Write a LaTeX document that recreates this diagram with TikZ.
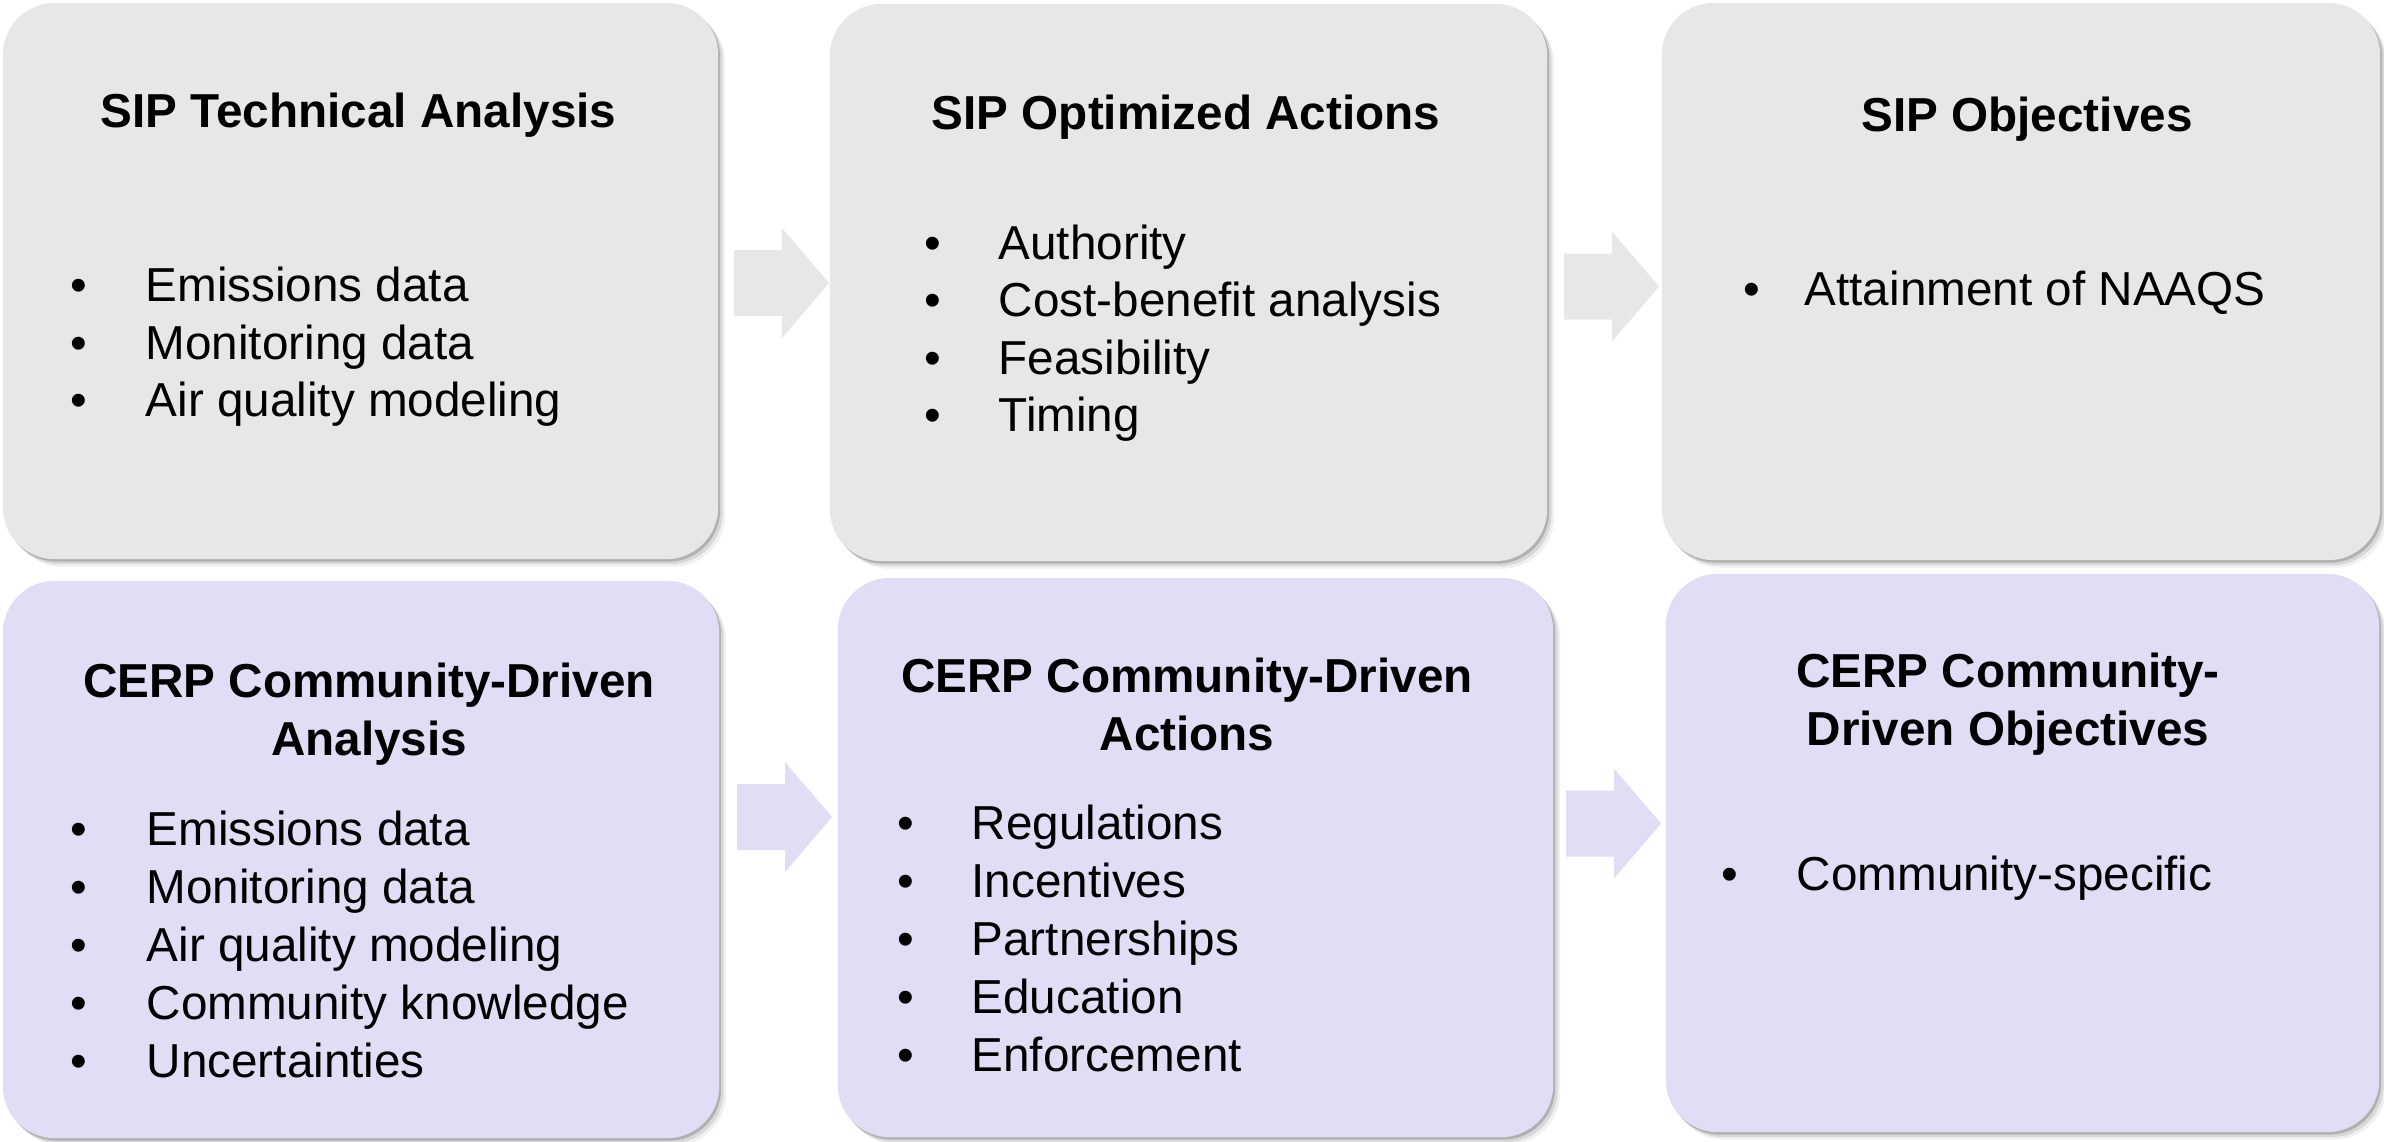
\documentclass[tikz,border=0pt]{standalone}
\usepackage{fontspec}
\setmainfont{Liberation Sans}
\usetikzlibrary{shadows,calc}

\definecolor{sipgray}{RGB}{231,231,231}
\definecolor{cerplilac}{RGB}{224,221,245}

% block arrow, #1 = middle of its tail
\newcommand{\flowarrow}[2]{%
  \fill[#2] ($(#1)+(0,-33)$) -- ++(48,0) -- ++(0,-22) -- ++(47,55)
    -- ++(-47,55) -- ++(0,-22) -- ++(-48,0) -- cycle;}

\begin{document}
\begin{tikzpicture}[x=0.01cm,y=-0.01cm,font=\fontsize{13.55}{16.4}\selectfont,
  panel/.style={rounded corners=0.52cm,inner sep=0pt,outer sep=0pt,
    drop shadow={shadow xshift=0.02cm,shadow yshift=-0.025cm,opacity=0.18,fill=black},
    drop shadow={shadow xshift=0.045cm,shadow yshift=-0.05cm,opacity=0.1,fill=black},
    drop shadow={shadow xshift=0.07cm,shadow yshift=-0.075cm,opacity=0.06,fill=black}},
  sip/.style={panel,fill=sipgray},
  cerp/.style={panel,fill=cerplilac},
  head/.style={inner sep=0pt,anchor=base,align=center,
    font=\fontsize{13.55}{16.4}\selectfont\bfseries},
  item/.style={inner sep=0pt,anchor=base west},
  dot/.style={inner sep=0pt,anchor=base}]
  \useasboundingbox (0,0) rectangle (2384,1141);

  % SIP row
  \node[sip,minimum width=7.15cm,minimum height=5.56cm] (sipA) at (360.5,281) {};
  \node[sip,minimum width=7.17cm,minimum height=5.57cm] (sipB) at (1188.5,282.5) {};
  \node[sip,minimum width=7.18cm,minimum height=5.57cm] (sipC) at (2021,281.5) {};

  % CERP row
  \node[cerp,minimum width=7.16cm,minimum height=5.57cm] (cerpA) at (361,859.5) {};
  \node[cerp,minimum width=7.15cm,minimum height=5.59cm] (cerpB) at (1195.5,857.5) {};
  \node[cerp,minimum width=7.13cm,minimum height=5.58cm] (cerpC) at (2022.5,853) {};

  \coordinate (arA) at (734,283);
  \coordinate (arB) at (1564,286.5);
  \coordinate (arC) at (737,817);
  \coordinate (arD) at (1566,823.5);
  \flowarrow{arA}{sipgray}
  \flowarrow{arB}{sipgray}
  \flowarrow{arC}{cerplilac}
  \flowarrow{arD}{cerplilac}

  % base of a two-line head = baseline of its last line
  \node[head] (sipA-t) at (358.5,127.5) {SIP Technical Analysis};
  \node[head] (sipB-t) at (1186,129.5) {SIP Optimized Actions};
  \node[head] (sipC-t) at (2027,131) {SIP Objectives};
  \node[head] (cerpA-t) at (369,755) {CERP Community-Driven\\Analysis};
  \node[head] (cerpB-t) at (1187,750) {CERP Community-Driven\\Actions};
  \node[head] (cerpC-t) at (2008,745) {CERP Community-\\Driven Objectives};

  \foreach \t [count=\i from 0] in {Emissions data,Monitoring data,Air quality modeling} {
    \node[dot] (sipA-b\i) at (79,301.5+57.5*\i) {\textbullet};
    \node[item] (sipA-i\i) at (145,301.5+57.5*\i) {\t};
  }
  \foreach \t [count=\i from 0] in {Authority,Cost-benefit analysis,Feasibility,Timing} {
    \node[dot] (sipB-b\i) at (933,259+57.5*\i) {\textbullet};
    \node[item] (sipB-i\i) at (998,259+57.5*\i) {\t};
  }
  \node[dot] (sipC-b0) at (1752,305) {\textbullet};
  \node[item] (sipC-i0) at (1804,305) {Attainment of NAAQS};

  \foreach \t [count=\i from 0] in {Emissions data,Monitoring data,Air quality modeling,Community knowledge,Uncertainties} {
    \node[dot] (cerpA-b\i) at (79,845+58*\i) {\textbullet};
    \node[item] (cerpA-i\i) at (146,845+58*\i) {\t};
  }
  \foreach \t [count=\i from 0] in {Regulations,Incentives,Partnerships,Education,Enforcement} {
    \node[dot] (cerpB-b\i) at (906,839+58*\i) {\textbullet};
    \node[item] (cerpB-i\i) at (971,839+58*\i) {\t};
  }
  \node[dot] (cerpC-b0) at (1730,890) {\textbullet};
  \node[item] (cerpC-i0) at (1796,890) {Community-specific};
\end{tikzpicture}
\end{document}
